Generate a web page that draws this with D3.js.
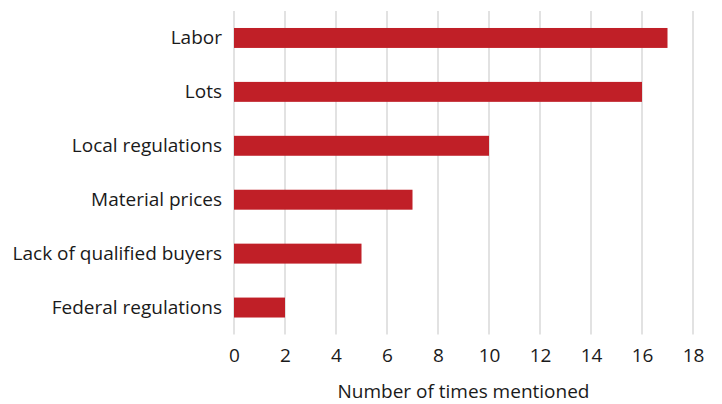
<!DOCTYPE html>
<meta charset="utf-8">
<style>
  body { margin: 0; background: #fff; }
  text { font-family: "Open Sans", sans-serif; fill: #1a1a1a; }
  .grid line { stroke: #d9d9d9; stroke-width: 1.5; }
  .bar { fill: #c01f27; }
</style>
<body>
<div id="chart"></div>
<script src="https://cdn.jsdelivr.net/npm/d3@7"></script>
<script>
// categories top to bottom and their counts
var categories = ["Labor", "Lots", "Local regulations", "Material prices", "Lack of qualified buyers", "Federal regulations"];
var counts = [17, 16, 10, 7, 5, 2];
var xTicks = [0, 2, 4, 6, 8, 10, 12, 14, 16, 18];

var width = 722, height = 404;
var plotLeft = 234, plotRight = 693, plotTop = 11, plotBottom = 334.5;

var svg = d3.select("#chart").append("svg")
    .attr("width", width)
    .attr("height", height);

var x = d3.scaleLinear().domain([0, 18]).range([plotLeft, plotRight]);
var y = d3.scaleBand().domain(categories).range([plotTop, plotBottom])
    .paddingInner(0.63).paddingOuter(0.315);

// vertical gridlines
svg.append("g").attr("class", "grid")
  .selectAll("line")
  .data(xTicks)
  .enter().append("line")
    .attr("x1", function(d) { return x(d); })
    .attr("x2", function(d) { return x(d); })
    .attr("y1", plotTop)
    .attr("y2", plotBottom);

// bars
svg.selectAll(".bar")
  .data(categories)
  .enter().append("rect")
    .attr("class", "bar")
    .attr("x", x(0))
    .attr("y", function(d) { return y(d); })
    .attr("width", function(d, i) { return x(counts[i]) - x(0); })
    .attr("height", y.bandwidth());

// x axis tick labels
var xAxis = svg.append("g")
    .attr("transform", "translate(0," + (plotBottom + 14) + ")")
    .call(d3.axisBottom(x).tickValues(xTicks).tickSize(0).tickPadding(0));
xAxis.select(".domain").remove();
xAxis.selectAll("text").style("font-size", "19px").style("font-family", "'Open Sans', sans-serif").attr("fill", "#1a1a1a");

// y axis category labels
var yAxis = svg.append("g")
    .attr("transform", "translate(" + (plotLeft - 12) + ",0)")
    .call(d3.axisLeft(y).tickSize(0).tickPadding(0));
yAxis.select(".domain").remove();
yAxis.selectAll("text").style("font-size", "19px").style("font-family", "'Open Sans', sans-serif").attr("fill", "#1a1a1a");

// axis title
svg.append("text")
    .attr("x", (plotLeft + plotRight) / 2)
    .attr("y", 398)
    .attr("text-anchor", "middle")
    .style("font-size", "19px")
    .text("Number of times mentioned");
</script>
</body>
